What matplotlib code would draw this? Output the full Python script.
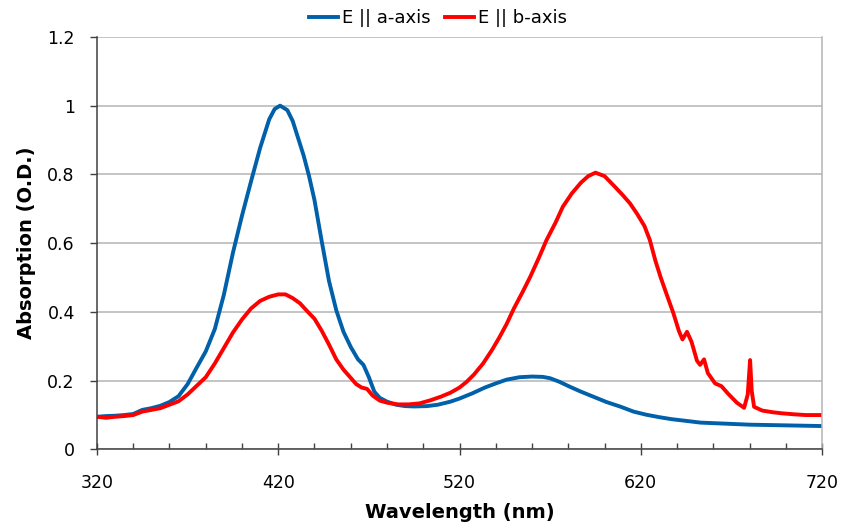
import numpy as np
import matplotlib.pyplot as plt

# E || a-axis (blue)
wl_a = [320, 325, 330, 335, 340, 345, 350, 355, 360, 365, 370, 375, 380, 385,
        390, 395, 400, 405, 410, 415, 418, 421, 425, 428, 431, 434, 437, 440,
        444, 448, 452, 456, 460, 464, 467, 470, 473, 476, 480, 485, 490, 495,
        502, 508, 515, 520, 527, 534, 540, 546, 553, 560, 566, 570, 575, 581,
        587, 594, 601, 609, 616, 623, 630, 637, 645, 653, 662, 671, 680, 690,
        700, 710, 720]
abs_a = [0.095, 0.097, 0.098, 0.100, 0.103, 0.115, 0.120, 0.127, 0.138, 0.155,
         0.190, 0.238, 0.285, 0.350, 0.450, 0.572, 0.680, 0.780, 0.877, 0.960,
         0.990, 1.000, 0.987, 0.955, 0.905, 0.855, 0.795, 0.725, 0.605, 0.490,
         0.405, 0.342, 0.298, 0.262, 0.246, 0.210, 0.168, 0.150, 0.139, 0.130,
         0.126, 0.125, 0.126, 0.130, 0.139, 0.148, 0.163, 0.180, 0.192, 0.203,
         0.210, 0.212, 0.211, 0.207, 0.197, 0.182, 0.168, 0.153, 0.138, 0.124,
         0.110, 0.101, 0.094, 0.088, 0.083, 0.078, 0.076, 0.074, 0.072, 0.071,
         0.070, 0.069, 0.068]

# E || b-axis (red)
wl_b = [320, 325, 330, 335, 340, 345, 350, 355, 360, 365, 370, 375, 380, 385,
        390, 395, 400, 405, 410, 415, 420, 424, 428, 432, 436, 440, 444, 448,
        452, 456, 460, 463, 466, 469, 472, 476, 480, 486, 492, 498, 504, 510,
        515, 520, 524, 528, 533, 538, 542, 546, 550, 555, 559, 564, 568, 573,
        577, 582, 587, 591, 595, 600, 605, 610, 614, 618, 622, 625, 628, 631,
        634, 638, 641, 643, 645.5, 648, 651, 652.7, 654.9, 657, 661, 664.5,
        668, 673, 677, 679, 680.3, 681.2, 682.5, 687, 693, 698, 705, 711, 720]
abs_b = [0.095, 0.092, 0.095, 0.097, 0.100, 0.110, 0.115, 0.120, 0.130, 0.140,
         0.160, 0.185, 0.210, 0.250, 0.295, 0.340, 0.378, 0.410, 0.432, 0.444,
         0.451, 0.451, 0.440, 0.425, 0.402, 0.380, 0.345, 0.305, 0.262, 0.232,
         0.208, 0.190, 0.180, 0.176, 0.157, 0.142, 0.136, 0.131, 0.131, 0.134,
         0.143, 0.154, 0.165, 0.180, 0.197, 0.218, 0.250, 0.290, 0.326, 0.365,
         0.410, 0.460, 0.502, 0.560, 0.609, 0.660, 0.706, 0.745, 0.776, 0.795,
         0.805, 0.795, 0.768, 0.740, 0.716, 0.685, 0.650, 0.609, 0.550, 0.500,
         0.455, 0.396, 0.345, 0.320, 0.342, 0.313, 0.258, 0.246, 0.262, 0.222,
         0.192, 0.184, 0.163, 0.136, 0.121, 0.160, 0.260, 0.170, 0.124, 0.113,
         0.108, 0.105, 0.102, 0.100, 0.100]

x_major = [320, 420, 520, 620, 720]
x_minor = list(range(320, 721, 20))
y_ticks = [0, 0.2, 0.4, 0.6, 0.8, 1.0, 1.2]
y_labels = ['0', '0.2', '0.4', '0.6', '0.8', '1', '1.2']

fig = plt.figure(figsize=(8.44, 5.27), dpi=100)
ax = fig.add_axes([0.1149, 0.1472, 0.8591, 0.7828])

ax.plot(wl_a, abs_a, color='#0060aa', lw=2.8, label='E || a-axis', solid_joinstyle='round')
ax.plot(wl_b, abs_b, color='#ff0000', lw=2.8, label='E || b-axis', solid_joinstyle='round')

ax.set_xlim(320, 720)
ax.set_ylim(0, 1.2)
ax.set_xticks(x_major)
ax.set_xticks(x_minor, minor=True)
ax.set_yticks(y_ticks)
ax.set_yticklabels(y_labels)

ax.grid(axis='y', color='#b4b4b4', lw=1.1)
ax.set_axisbelow(True)
for s in ['left', 'bottom']:
    ax.spines[s].set_color('#404040')
    ax.spines[s].set_linewidth(1.1)
ax.spines['right'].set_color('#b4b4b4')
ax.spines['right'].set_linewidth(1.1)
ax.spines['top'].set_visible(False)

ax.tick_params(axis='x', which='major', direction='inout', length=8, width=1,
               color='#404040', labelsize=12.5, pad=14)
ax.tick_params(axis='x', which='minor', direction='in', length=4.5, width=1,
               color='#404040')
ax.tick_params(axis='y', which='major', direction='out', length=5, width=1,
               color='#404040', labelsize=12.5, pad=11)

ax.set_xlabel('Wavelength (nm)', fontsize=14, fontweight='bold', labelpad=7.5)
ax.set_ylabel('Absorption (O.D.)', fontsize=14, fontweight='bold', labelpad=8)

fig.legend(loc='center', bbox_to_anchor=(438 / 844, 1 - 18 / 527), ncol=2,
           frameon=False, fontsize=13, handlelength=1.6, handletextpad=0.2,
           columnspacing=0.8)

fig.savefig('out.png', dpi=100)
